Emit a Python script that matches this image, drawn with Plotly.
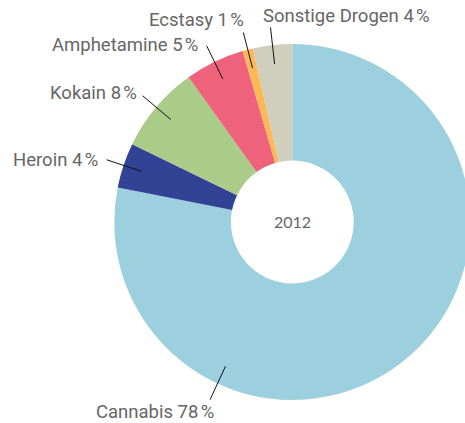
import math
import plotly.graph_objects as go

categories = ["Cannabis", "Heroin", "Kokain", "Amphetamine", "Ecstasy", "Sonstige Drogen"]
values = [78.1, 4.1, 7.9, 5.4, 0.95, 3.55]
center_label = "2012"
colors = ["#9dd0de", "#324396", "#a9cc88", "#ee637b", "#fdb958", "#d0cfbd"]

W, H = 480, 423
CX, CY, R = 292.3, 222, 178  # pixel centre / radius of the donut

fig = go.Figure()
fig.add_trace(go.Pie(
    labels=categories, values=values, sort=False, direction="clockwise",
    rotation=0, hole=0.345, textinfo="none", hoverinfo="label+percent",
    marker=dict(colors=colors, line=dict(width=0)),
    domain=dict(x=[(CX - R) / W, (CX + R) / W],
                y=[1 - (CY + R) / H, 1 - (CY - R) / H]),
    showlegend=False,
))

def px(frac, rr):
    a = 2 * math.pi * frac
    return CX + rr * R * math.sin(a), CY - rr * R * math.cos(a)

def paper(x, y):
    return x / W, 1 - y / H

total = sum(values)
cum = 0
# label anchor style per slice: (xanchor, dx, dy, angle override)
styles = {
    "Cannabis": ("right", 5, 12.5, 0.569),
    "Heroin": ("right", -7.5, 0, None),
    "Kokain": ("right", -5, -3, None),
    "Amphetamine": ("right", -8, -1, None),
    "Ecstasy": ("right", 2, -12, None),
    "Sonstige Drogen": ("left", -9, -11.5, None),
}
for cat, v in zip(categories, values):
    mid = (cum + v / 2) / total
    cum += v
    xa, dx, dy, ov = styles[cat]
    f = ov if ov is not None else mid
    x0, y0 = px(f, 0.893)
    x1, y1 = px(f, 1.10)
    p0, p1 = paper(x0, y0), paper(x1, y1)
    fig.add_shape(type="line", xref="paper", yref="paper",
                  x0=p0[0], y0=p0[1], x1=p1[0], y1=p1[1],
                  line=dict(color="#111111", width=1))
    tx, ty = paper(x1 + dx, y1 + dy)
    pct = round(100 * v / total)
    fig.add_annotation(x=tx, y=ty, xref="paper", yref="paper",
                       text=f"{cat} {pct}\u202f%", showarrow=False,
                       xanchor=xa, yanchor="middle", borderpad=0,
                       font=dict(family="Roboto", size=18.5, color="#666666"))

cxp, cyp = paper(CX, CY - 1)
fig.add_annotation(x=cxp, y=cyp, xref="paper", yref="paper", text=center_label,
                   showarrow=False, font=dict(family="Lato", size=16, color="#666666"))

fig.update_layout(width=W, height=H, margin=dict(l=0, r=0, t=0, b=0),
                  paper_bgcolor="white", plot_bgcolor="white")
fig.write_html("out.html",
               config={"displayModeBar": False},
               post_script="document.body.style.margin='0';"
                           "document.body.style.overflow='hidden';"
                           "document.documentElement.style.overflow='hidden';")
